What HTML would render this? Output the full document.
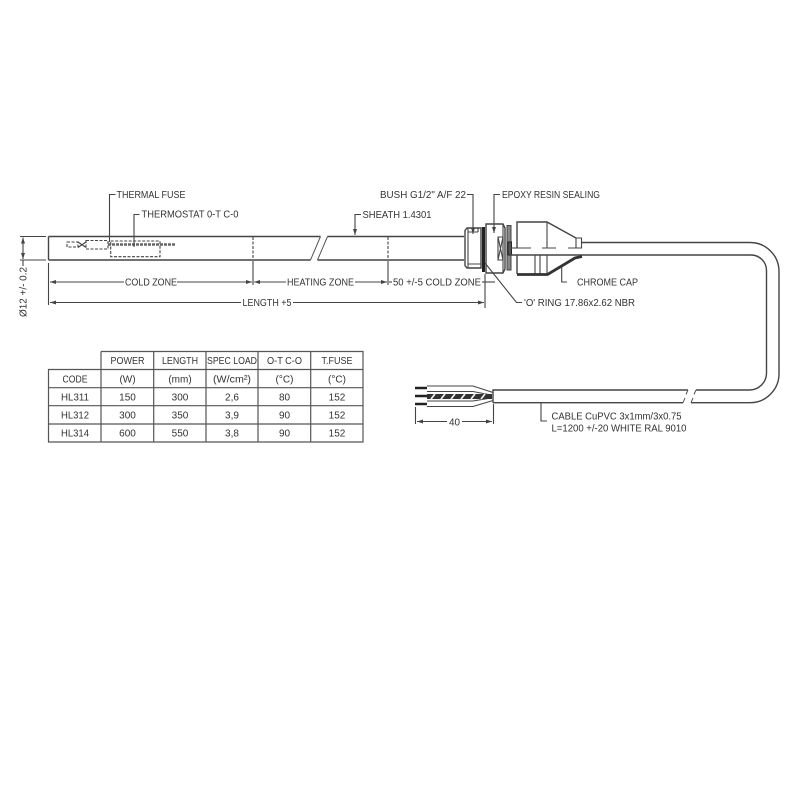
<!DOCTYPE html>
<html>
<head>
<meta charset="utf-8">
<style>
html,body{margin:0;padding:0;background:#fff;width:800px;height:800px;overflow:hidden}
svg{display:block;filter:blur(0.35px)}
text{font-family:"Liberation Sans",sans-serif;font-size:10px;fill:#333}
.c{text-anchor:middle}
.l{fill:none;stroke:#444;stroke-width:1.1}
.h{fill:none;stroke:#444;stroke-width:1.4}
.s{fill:none;stroke:#555;stroke-width:1}
.d{fill:none;stroke:#444;stroke-width:1.1;stroke-dasharray:3 1.5}
.t{fill:none;stroke:#555;stroke-width:1.2}
.k{fill:none;stroke:#222;stroke-width:2.6}
</style>
</head>
<body>
<svg width="800" height="800" viewBox="0 0 800 800" xmlns="http://www.w3.org/2000/svg">
<defs>
<marker id="a" viewBox="0 0 6 4" refX="6" refY="2" markerWidth="6" markerHeight="4" orient="auto-start-reverse" markerUnits="userSpaceOnUse"><path d="M0 0L6 2L0 4Z" fill="#444"/></marker>
</defs>

<!-- sheath -->
<path class="h" d="M48.500 236.500H320.500M327.500 236.500H464M48.500 260H310.500M317.500 260H464M48.500 236.500V260"/>
<path class="s" d="M320.500 236.500L310.500 260M327.500 236.500L317.500 260"/>
<path class="l" d="M20 236.500H46M20 260H46"/>
<path class="l" d="M23 237.500V259" marker-start="url(#a)" marker-end="url(#a)"/>
<path class="l" d="M23 260V266"/>
<text transform="translate(26.500,317) rotate(-90)" textLength="50" lengthAdjust="spacingAndGlyphs">Ø12 +/- 0.2</text>

<!-- zone dashed separators -->
<path class="d" d="M253 237V260M388 237V260"/>
<path class="l" d="M253 261V285M388 261V285M48.500 263V305M485 274V308"/>

<!-- dimension lines -->
<path class="l" d="M50 282H124" marker-start="url(#a)"/>
<path class="l" d="M177 282H252" marker-end="url(#a)"/>
<path class="l" d="M254 282H286" marker-start="url(#a)"/>
<path class="l" d="M355 282H387" marker-end="url(#a)"/>
<path class="l" d="M389 282H392"/>
<path class="l" d="M482 282H495"/>
<path class="l" d="M50 302.500H241" marker-start="url(#a)"/>
<path class="l" d="M293 302.500H484" marker-end="url(#a)"/>

<text x="125" y="285.500" textLength="52" lengthAdjust="spacingAndGlyphs">COLD ZONE</text>
<text x="287" y="285.500" textLength="67" lengthAdjust="spacingAndGlyphs">HEATING ZONE</text>
<text x="393" y="285.500" textLength="88" lengthAdjust="spacingAndGlyphs">50 +/-5 COLD ZONE</text>
<text x="242.500" y="306" textLength="49" lengthAdjust="spacingAndGlyphs">LENGTH +5</text>

<!-- internals -->
<path class="d" d="M67 242H78V247H67Z"/>
<path class="l" d="M78 242L86 247.500M78 247.500L86 242"/>
<path class="d" d="M86 240.500H108V249H86Z"/>
<path class="d" d="M110.700 241H160V256.700H110.700Z"/>
<path d="M108 244.500H176" fill="none" stroke="#666" stroke-width="2.600" stroke-dasharray="3 1"/>

<!-- leaders left -->
<path class="l" d="M115.500 194.500H109.500V242"/>
<path class="l" d="M139.500 214.500H134V247"/>
<text x="116.500" y="198" textLength="69" lengthAdjust="spacingAndGlyphs">THERMAL FUSE</text>
<text x="141.500" y="217.500" textLength="97" lengthAdjust="spacingAndGlyphs">THERMOSTAT 0-T C-0</text>

<path class="l" d="M361 214.500H355V235" marker-end="url(#a)"/>
<text x="362.500" y="218" textLength="69" lengthAdjust="spacingAndGlyphs">SHEATH 1.4301</text>

<text x="380" y="198" textLength="86" lengthAdjust="spacingAndGlyphs">BUSH G1/2" A/F 22</text>
<path class="l" d="M467 194.500H473V234" marker-end="url(#a)"/>
<text x="502" y="198" textLength="98" lengthAdjust="spacingAndGlyphs">EPOXY RESIN SEALING</text>
<path class="l" d="M500 194.500H494V233" marker-end="url(#a)"/>

<!-- bush -->
<path class="h" d="M465 230.500L467 228H481V268H467L465 265.500Z"/>
<path class="l" d="M468 228V268M478 228V232M468 232H478M468 264H481"/>
<!-- o-ring -->
<path d="M483.500 227V272" fill="none" stroke="#222" stroke-width="3"/>
<!-- body -->
<path class="h" d="M486 224H503L505 228V269L503 273H486Z"/>
<path class="l" d="M503 224V273"/>
<path class="l" d="M498 237H503V260H498ZM498 237L503 260M503 237L498 260"/>
<!-- flange -->
<path d="M507 225.500H511V270H507Z" fill="#888" stroke="#444" stroke-width="1"/>
<path d="M508 242H511.500V255H508Z" fill="#555" stroke="#222" stroke-width="1"/>
<path class="l" d="M511 248H517"/>

<!-- cap -->
<path class="h" d="M517 248V222H547L576 238M517 255V274"/>
<path class="l" d="M547 222V248M517 248H531M542 248H556M568 248H582"/>
<path class="l" d="M576 238H581.500V248H576Z"/>
<path class="h" d="M510 255H582"/>
<path class="l" d="M535 255V274M540 255V274M547 255V274"/>
<path d="M517 274.500H547.500L575 258L582 256.500" fill="none" stroke="#333" stroke-width="2.800"/>
<path class="l" d="M561.700 267V282H567"/>
<text x="577" y="285.500" textLength="61" lengthAdjust="spacingAndGlyphs">CHROME CAP</text>

<!-- o ring leader -->
<path class="l" d="M485 263L516.500 302.500H522"/>
<text x="524" y="306" textLength="111" lengthAdjust="spacingAndGlyphs">'O' RING 17.86x2.62 NBR</text>

<!-- cable -->
<path class="h" d="M581.500 242.500H750A29 29 0 0 1 779 271.500V373.500A29 29 0 0 1 750 402.700H691M683 402.700H493"/>
<path class="h" d="M582 255H751A15.500 15.500 0 0 1 766.500 270.500V373A17 17 0 0 1 749.500 390H696M688 390H493V402.700"/>
<path class="s" d="M688 390L686 394.500M696 390L694 394.500M685 398L683 402.700M693 398L691 402.700"/>

<!-- wires -->
<path class="k" d="M415 388H427M415 396H427M415 404H427"/>
<path class="l" d="M427 386H473L493 392.500M427 391.500H473L491 395"/>
<path class="l" d="M427 401H473L491 398M427 406.500H473L493 400.500"/>
<path d="M427 396.500H492" fill="none" stroke="#333" stroke-width="5"/>
<path d="M431 399L435 394M441 399L445 394M451 399L455 394M461 399L465 394M471 399L475 394M481 399L485 394" fill="none" stroke="#eee" stroke-width="1.800"/>

<!-- 40 dim -->
<path class="l" d="M415.500 407V424M493.500 404V424"/>
<path class="l" d="M417 421.500H447" marker-start="url(#a)"/>
<path class="l" d="M462 421.500H492" marker-end="url(#a)"/>
<text x="449" y="425.500" textLength="11" lengthAdjust="spacingAndGlyphs">40</text>

<!-- cable label -->
<path class="l" d="M541 403V421H547"/>
<text x="551.500" y="419.500" textLength="130" lengthAdjust="spacingAndGlyphs">CABLE CuPVC 3x1mm/3x0.75</text>
<text x="551.500" y="431.500" textLength="135" lengthAdjust="spacingAndGlyphs">L=1200 +/-20 WHITE RAL 9010</text>

<!-- table -->
<path class="t" d="M101 351.500H363V442H48.500V369.500H363M48.500 387.700H363M48.500 405.700H363M48.500 424H363M101 351.500V442M153.700 351.500V442M206 351.500V442M258 351.500V442M310.700 351.500V442M363 351.500V442"/>
<text class="c" x="127.500" y="364" textLength="34" lengthAdjust="spacingAndGlyphs">POWER</text>
<text class="c" x="180" y="364" textLength="36" lengthAdjust="spacingAndGlyphs">LENGTH</text>
<text class="c" x="232" y="364" textLength="50" lengthAdjust="spacingAndGlyphs">SPEC LOAD</text>
<text class="c" x="284.500" y="364" textLength="35" lengthAdjust="spacingAndGlyphs">O-T C-O</text>
<text class="c" x="337" y="364" textLength="31" lengthAdjust="spacingAndGlyphs">T.FUSE</text>

<text class="c" x="75" y="382.500" textLength="25" lengthAdjust="spacingAndGlyphs">CODE</text>
<text class="c" x="127.500" y="382.500">(W)</text>
<text class="c" x="180" y="382.500">(mm)</text>
<text class="c" x="232" y="382.500" textLength="38" lengthAdjust="spacingAndGlyphs">(W/cm²)</text>
<text class="c" x="284.500" y="382.500">(°C)</text>
<text class="c" x="337" y="382.500">(°C)</text>

<text class="c" x="75" y="400.500" textLength="28" lengthAdjust="spacingAndGlyphs">HL311</text>
<text class="c" x="127.500" y="400.500">150</text>
<text class="c" x="180" y="400.500">300</text>
<text class="c" x="232" y="400.500">2,6</text>
<text class="c" x="284.500" y="400.500">80</text>
<text class="c" x="337" y="400.500">152</text>

<text class="c" x="75" y="418.500" textLength="28" lengthAdjust="spacingAndGlyphs">HL312</text>
<text class="c" x="127.500" y="418.500">300</text>
<text class="c" x="180" y="418.500">350</text>
<text class="c" x="232" y="418.500">3,9</text>
<text class="c" x="284.500" y="418.500">90</text>
<text class="c" x="337" y="418.500">152</text>

<text class="c" x="75" y="436.500" textLength="28" lengthAdjust="spacingAndGlyphs">HL314</text>
<text class="c" x="127.500" y="436.500">600</text>
<text class="c" x="180" y="436.500">550</text>
<text class="c" x="232" y="436.500">3,8</text>
<text class="c" x="284.500" y="436.500">90</text>
<text class="c" x="337" y="436.500">152</text>
</svg>
</body>
</html>
